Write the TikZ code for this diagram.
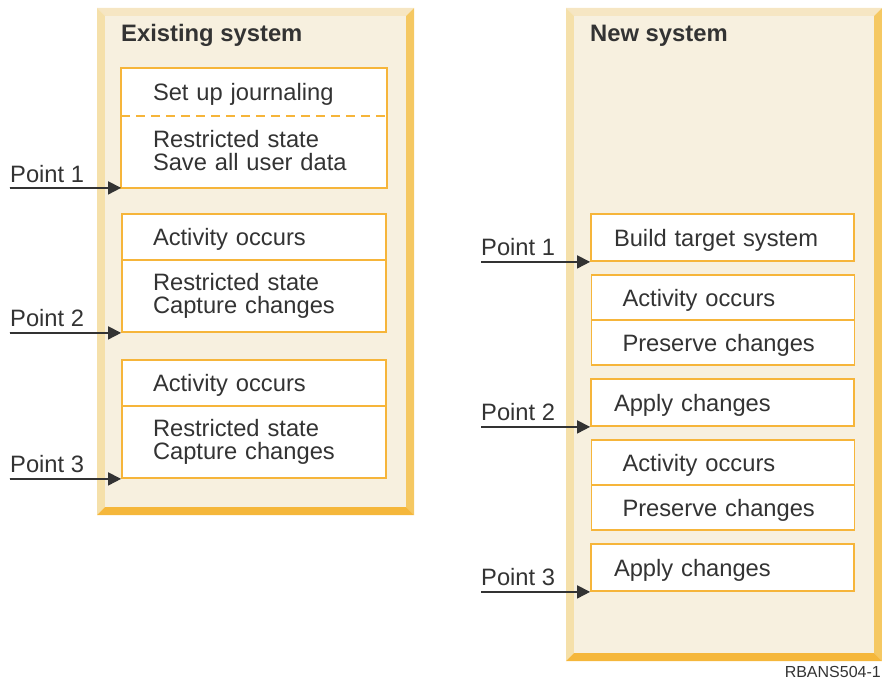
\documentclass[tikz,border=0pt]{standalone}
\usepackage{fontspec}
\setmainfont{Liberation Sans}
\usetikzlibrary{arrows.meta}

\definecolor{ink}{HTML}{333333}
\definecolor{panelfill}{HTML}{F7F0DF}
\definecolor{beveltop}{HTML}{F6E6C3}
\definecolor{bevelleft}{HTML}{F5E0AA}
\definecolor{bevelright}{HTML}{F5C862}
\definecolor{bevelbottom}{HTML}{F5B73B}
\definecolor{boxgold}{HTML}{F6B53A}

% bevelled panel: x1 y1 x2 y2 (y grows downwards)
\newcommand{\bevelpanel}[4]{%
  \fill[beveltop] (#1,#2) -- (#3,#2) -- (#3-8,#2+8) -- (#1+8,#2+8) -- cycle;
  \fill[bevelleft] (#1,#2) -- (#1+8,#2+8) -- (#1+8,#4-8) -- (#1,#4) -- cycle;
  \fill[bevelright] (#3,#2) -- (#3,#4) -- (#3-8,#4-8) -- (#3-8,#2+8) -- cycle;
  \fill[bevelbottom] (#1,#4) -- (#3,#4) -- (#3-8,#4-8) -- (#1+8,#4-8) -- cycle;
  \fill[panelfill] (#1+8,#2+8) rectangle (#3-8,#4-8);
}

\begin{document}
\begin{tikzpicture}[x=1pt, y=-1pt, font=\fontsize{23.7}{23}\selectfont]
    % Styles
    \tikzstyle{title}=[anchor=base west, inner sep=0pt, text=ink, font=\fontsize{23.8}{23}\selectfont\bfseries]
    \tikzstyle{stage}=[rectangle, draw=boxgold, fill=white, line width=1.8pt, minimum width=264pt, text width=202pt, inner xsep=31pt, align=left, text=ink]
    \tikzstyle{oneline}=[text height=18pt, text depth=1pt]
    \tikzstyle{newstage}=[stage, minimum width=263pt, text width=201pt]
    \tikzstyle{target}=[stage, minimum width=263pt, text width=217pt, inner xsep=23pt]
    \tikzstyle{pointlabel}=[anchor=base west, inner sep=0pt, text=ink]
    \tikzstyle{pointer}=[-{Triangle[length=13pt,width=13pt]}, line width=1.7pt, ink]

    \useasboundingbox (0,0) rectangle (882,682);

    % Panels
    \bevelpanel{97}{8}{414}{515}
    \bevelpanel{566}{8}{882}{661}

    \node[title] (oldtitle) at (121,42) {Existing system};
    \node[title] (newtitle) at (590,42) {New system};

    % Existing system
    \node[stage, oneline, draw=none, minimum height=46pt] (journal) at (254,92) {Set up journaling};
    \node[stage, draw=none, minimum height=72pt] (savedata) at (254,151) {Restricted state\\Save all user data};
    \draw[boxgold, line width=1.8pt] (journal.north west) rectangle (savedata.south east);
    \draw[boxgold, line width=1.8pt, dash pattern=on 9pt off 6pt] (journal.south west) -- (journal.south east);

    \node[stage, oneline, minimum height=46pt] (activity1) at (254,237) {Activity occurs};
    \node[stage, minimum height=72pt] (capture1) at (254,296) {Restricted state\\Capture changes};
    \node[stage, oneline, minimum height=46pt] (activity2) at (254,383) {Activity occurs};
    \node[stage, minimum height=72pt] (capture2) at (254,442) {Restricted state\\Capture changes};

    % New system
    \node[target, oneline, minimum height=47pt] (build) at (722.5,237.5) {Build target system};
    \node[newstage, oneline, minimum height=45pt] (activity3) at (723,297.5) {Activity occurs};
    \node[newstage, oneline, minimum height=45pt] (preserve1) at (723,342.5) {Preserve changes};
    \node[target, oneline, minimum height=47pt] (apply1) at (722.5,402.5) {Apply changes};
    \node[newstage, oneline, minimum height=45pt] (activity4) at (723,462.5) {Activity occurs};
    \node[newstage, oneline, minimum height=45pt] (preserve2) at (723,507.5) {Preserve changes};
    \node[target, oneline, minimum height=47pt] (apply2) at (722.5,567.5) {Apply changes};

    % Points, existing system
    \node[pointlabel] (oldp1) at (10,182) {Point 1};
    \node[pointlabel] (oldp2) at (10,326) {Point 2};
    \node[pointlabel] (oldp3) at (10,472) {Point 3};
    \coordinate (oldp1s) at (10,188);
    \coordinate (oldp2s) at (10,333);
    \coordinate (oldp3s) at (10,479);
    \draw[pointer] (oldp1s) -- (savedata.south west);
    \draw[pointer] (oldp2s) -- (capture1.south west);
    \draw[pointer] (oldp3s) -- (capture2.south west);

    % Points, new system
    \node[pointlabel] (newp1) at (481,255) {Point 1};
    \node[pointlabel] (newp2) at (481,420) {Point 2};
    \node[pointlabel] (newp3) at (481,585) {Point 3};
    \coordinate (newp1s) at (481,262);
    \coordinate (newp2s) at (481,427);
    \coordinate (newp3s) at (481,592);
    \draw[pointer] (newp1s) -- (build.south west);
    \draw[pointer] (newp2s) -- (apply1.south west);
    \draw[pointer] (newp3s) -- (apply2.south west);

    % Figure id
    \node[anchor=base east, inner sep=0pt, text=ink, font=\fontsize{16}{16}\selectfont] (figid) at (881,677) {RBANS504-1};
\end{tikzpicture}
\end{document}
